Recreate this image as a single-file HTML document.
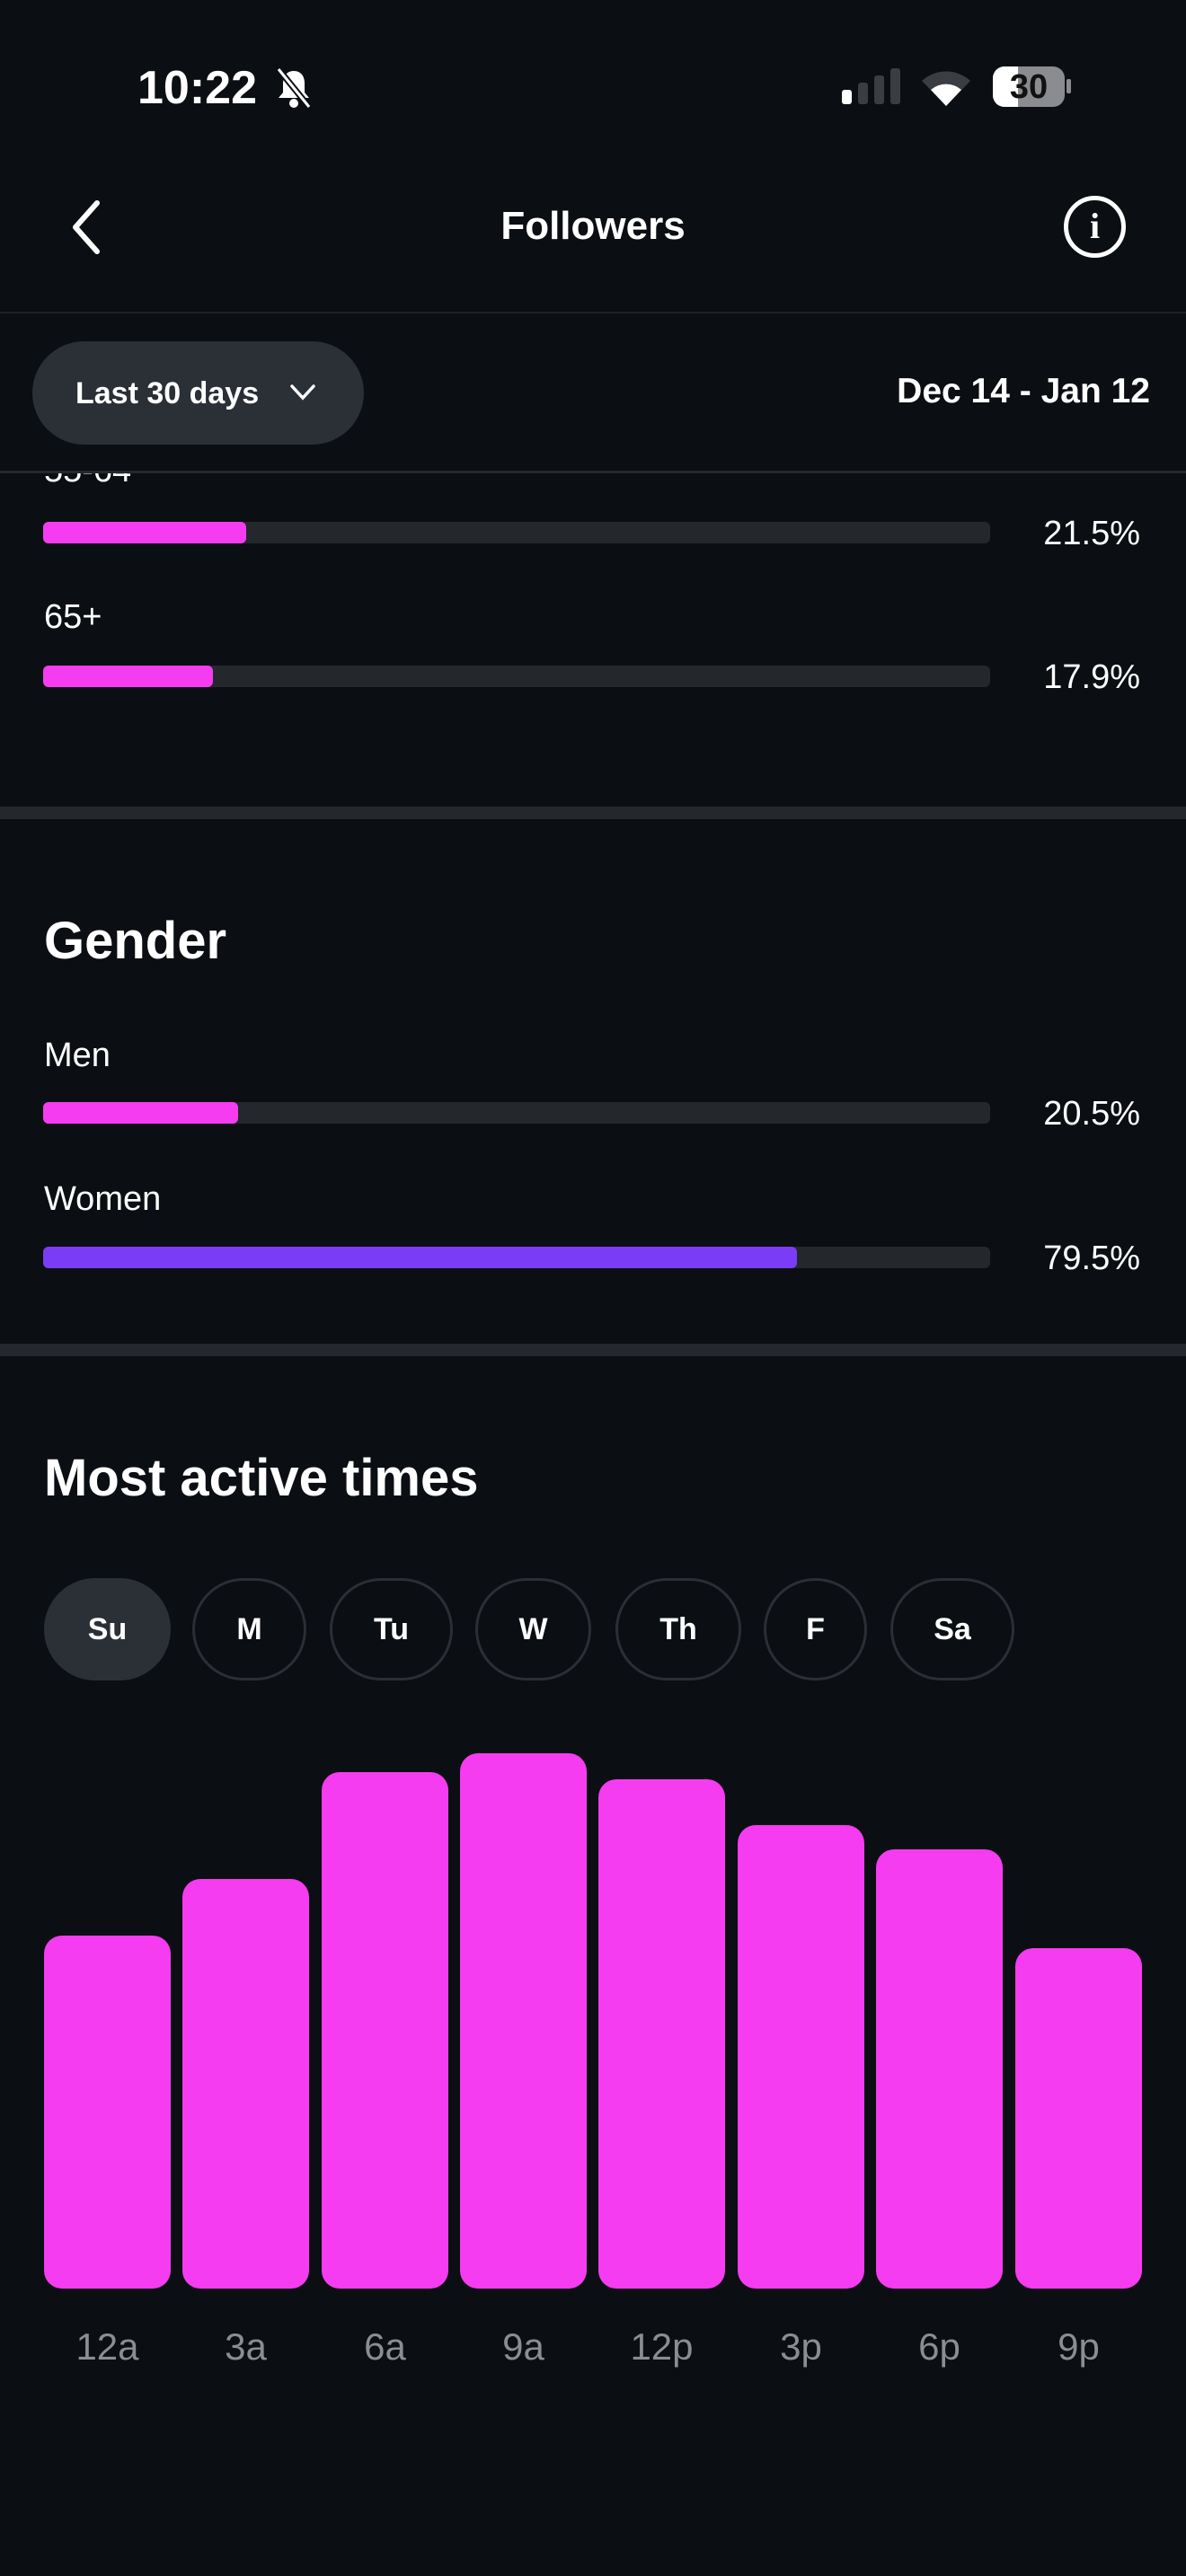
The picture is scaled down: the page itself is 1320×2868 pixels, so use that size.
<!DOCTYPE html>
<html><head><meta charset="utf-8"><style>
*{margin:0;padding:0;box-sizing:border-box}
body{width:1320px;height:2868px;background:#0b0e12;color:#fff;font-family:"Liberation Sans",sans-serif;position:relative;overflow:hidden}
.a{position:absolute}
.track{position:absolute;left:48px;width:1054px;height:24px;border-radius:6px;background:#24272c}
.fill{position:absolute;left:0;top:0;height:24px;border-radius:6px;background:#f53cf0}
.pct{position:absolute;right:51px;font-size:38px;line-height:1}
.lbl{position:absolute;left:49px;font-size:38px;line-height:1}
.bar{position:absolute;width:141px;background:#f53cf0;border-radius:20px;bottom:320px}
.tk{position:absolute;top:2592px;width:141px;text-align:center;font-size:42px;color:#8a8d91;line-height:1}
.pill{position:absolute;top:1757px;height:114px;border-radius:57px;border:3px solid #2b2f35;font-size:34px;font-weight:bold;display:flex;align-items:center;justify-content:center}
.h{position:absolute;left:49px;font-size:58px;font-weight:bold;line-height:1}
.sep{position:absolute;left:0;width:1320px;background:#24272c}
</style></head><body>
<div class="a" style="left:153px;top:72px;font-size:52px;font-weight:bold;line-height:1">10:22</div>
<svg class="a" style="left:306px;top:75px" width="42" height="46" viewBox="0 0 42 46"><path d="M21 4c-8 0-12 6-12 14v10l-5 6h34l-5-6V18c0-8-4-14-12-14z" fill="#fff"/><circle cx="21" cy="40" r="5" fill="#fff"/><line x1="4" y1="2" x2="38" y2="44" stroke="#0b0e12" stroke-width="7"/><line x1="4" y1="2" x2="38" y2="44" stroke="#fff" stroke-width="3"/></svg>
<div class="a" style="left:937px;top:100px;width:11px;height:16px;background:#fff;border-radius:3px"></div>
<div class="a" style="left:955px;top:92px;width:11px;height:24px;background:#3a3d42;border-radius:3px"></div>
<div class="a" style="left:973px;top:84px;width:11px;height:32px;background:#3a3d42;border-radius:3px"></div>
<div class="a" style="left:991px;top:76px;width:11px;height:40px;background:#3a3d42;border-radius:3px"></div>
<svg class="a" style="left:1024px;top:76px" width="58" height="42" viewBox="0 0 58 42"><path d="M29 42 L2 14 A40 40 0 0 1 56 14 Z" fill="#3a3d42"/><path d="M29 42 L12 24 A26 26 0 0 1 46 24 Z" fill="#fff"/></svg>
<div class="a" style="left:1105px;top:74px;width:80px;height:45px;border-radius:13px;background:#8a8c90;overflow:hidden"><div style="width:28px;height:45px;background:#fff"></div></div>
<div class="a" style="left:1187px;top:88px;width:5px;height:16px;background:#8a8c90;border-radius:2px"></div>
<div class="a" style="left:1105px;top:77px;width:80px;text-align:center;font-size:38px;font-weight:bold;color:#111;line-height:40px">30</div>
<svg class="a" style="left:76px;top:222px" width="40" height="62" viewBox="0 0 40 62"><path d="M32 4 L8 31 L32 58" stroke="#fff" stroke-width="6" fill="none" stroke-linecap="round" stroke-linejoin="round"/></svg>
<div class="a" style="left:0;width:1320px;top:230px;text-align:center;font-size:44px;font-weight:bold;line-height:44px">Followers</div>
<div class="a" style="left:1184px;top:218px;width:69px;height:69px;border:5px solid #fff;border-radius:50%;text-align:center;font-size:40px;font-weight:bold;line-height:58px;font-family:'Liberation Serif',serif">i</div>
<div class="sep" style="top:347px;height:2px;background:#1e2125"></div>
<div class="a" style="left:36px;top:380px;width:369px;height:115px;border-radius:58px;background:#2b2f36"></div>
<div class="a" style="left:84px;top:419px;font-size:34px;font-weight:bold;line-height:38px">Last 30 days</div>
<svg class="a" style="left:322px;top:426px" width="30" height="22" viewBox="0 0 30 22"><path d="M3 4 L15 17 L27 4" stroke="#fff" stroke-width="3.5" fill="none" stroke-linecap="round"/></svg>
<div class="a" style="right:40px;top:416px;font-size:39px;font-weight:bold;line-height:40px">Dec 14 - Jan 12</div>
<div class="a" style="left:0;top:527px;width:1320px;height:30px;overflow:hidden"><div class="lbl" style="top:-22px">55-64</div></div>
<div class="sep" style="top:524px;height:3px"></div>
<div class="track" style="top:581px"><div class="fill" style="width:226px"></div></div>
<div class="pct" style="top:575px">21.5%</div>
<div class="lbl" style="top:668px">65+</div>
<div class="track" style="top:741px"><div class="fill" style="width:189px"></div></div>
<div class="pct" style="top:735px">17.9%</div>
<div class="sep" style="top:898px;height:14px"></div>
<div class="h" style="top:1019px">Gender</div>
<div class="lbl" style="top:1156px">Men</div>
<div class="track" style="top:1227px"><div class="fill" style="width:217px"></div></div>
<div class="pct" style="top:1221px">20.5%</div>
<div class="lbl" style="top:1316px">Women</div>
<div class="track" style="top:1388px"><div class="fill" style="width:839px;background:#7b3cf5"></div></div>
<div class="pct" style="top:1382px">79.5%</div>
<div class="sep" style="top:1496px;height:14px"></div>
<div class="h" style="top:1617px">Most active times</div>
<div class="pill" style="left:49px;width:141px;background:#2b2f36;border-color:#2b2f36">Su</div>
<div class="pill" style="left:214px;width:127px">M</div>
<div class="pill" style="left:367px;width:137px">Tu</div>
<div class="pill" style="left:529px;width:129px">W</div>
<div class="pill" style="left:685px;width:140px">Th</div>
<div class="pill" style="left:850px;width:115px">F</div>
<div class="pill" style="left:991px;width:138px">Sa</div>
<div class="bar" style="left:49px;top:2155px"></div>
<div class="bar" style="left:203px;top:2092px"></div>
<div class="bar" style="left:358px;top:1973px"></div>
<div class="bar" style="left:512px;top:1952px"></div>
<div class="bar" style="left:666px;top:1981px"></div>
<div class="bar" style="left:821px;top:2032px"></div>
<div class="bar" style="left:975px;top:2059px"></div>
<div class="bar" style="left:1130px;top:2169px"></div>
<div class="tk" style="left:49px">12a</div>
<div class="tk" style="left:203px">3a</div>
<div class="tk" style="left:358px">6a</div>
<div class="tk" style="left:512px">9a</div>
<div class="tk" style="left:666px">12p</div>
<div class="tk" style="left:821px">3p</div>
<div class="tk" style="left:975px">6p</div>
<div class="tk" style="left:1130px">9p</div>
</body></html>
